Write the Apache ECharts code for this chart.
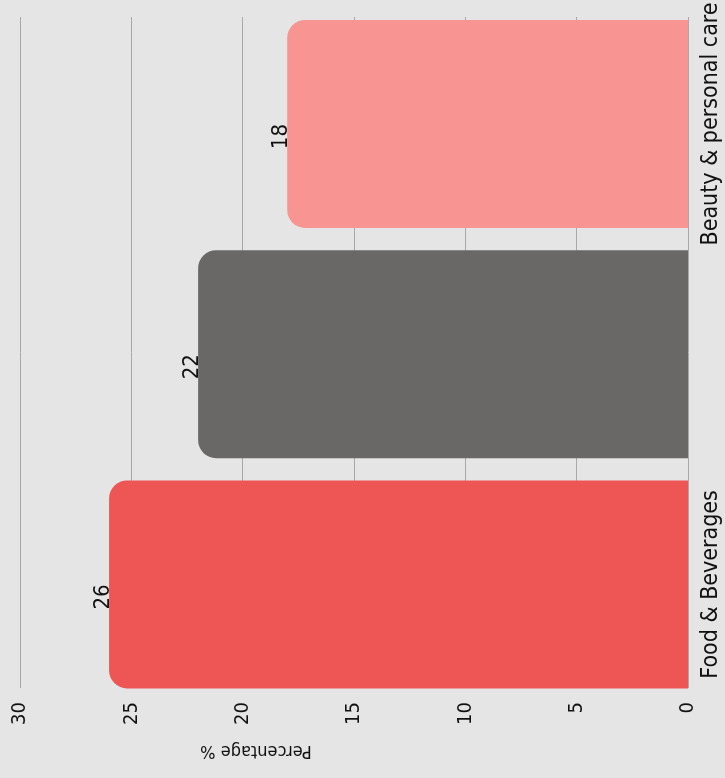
<!DOCTYPE html>
<html>
<head>
<meta charset="utf-8">
<style>
  html, body { margin: 0; padding: 0; background: #e5e5e5; }
  #chart { width: 725px; height: 778px; }
</style>
<script src="https://cdn.jsdelivr.net/npm/echarts@6/dist/echarts.min.js"></script>
</head>
<body>
<div id="chart"></div>
<script>
// Share of respondents per sector, in percent
const categories = ['Food & Beverages', 'Online sales', 'Beauty & personal care'];
const values = [26, 22, 18];
const barColors = ['#ee5555', '#696866', '#f89492'];
const valueTicks = { min: 0, max: 30, interval: 5 };
const axisTitle = 'Percentage %';

const FONT = 'DejaVu Sans Condensed';

const chart = echarts.init(document.getElementById('chart'), null, { renderer: 'canvas' });

chart.setOption({
  backgroundColor: '#e5e5e5',
  animation: false,
  grid: [
    // bars and category labels
    { left: 20, right: 37, top: 5.5, bottom: 78.5 },
    // value scale and gridlines
    { left: 20, right: 37, top: 17, bottom: 90 }
  ],
  xAxis: [
    {
      gridIndex: 0, type: 'value', inverse: true,
      min: valueTicks.min, max: valueTicks.max, interval: valueTicks.interval,
      show: false
    },
    {
      gridIndex: 1, type: 'value', inverse: true, position: 'bottom',
      min: valueTicks.min, max: valueTicks.max, interval: valueTicks.interval,
      axisLine: { show: false },
      axisTick: { show: false },
      splitLine: { show: true, lineStyle: { color: '#a9a9a9', width: 1 } },
      axisLabel: { rotate: 90, margin: 14, fontFamily: FONT, fontSize: 20, color: '#111' }
    }
  ],
  yAxis: [
    {
      gridIndex: 0, type: 'category', data: categories, position: 'right',
      axisLine: { show: false },
      axisTick: { show: false },
      axisLabel: { rotate: 90, margin: 12, fontFamily: FONT, fontSize: 23, color: '#111' }
    },
    {
      gridIndex: 1, type: 'category', data: categories, show: false
    }
  ],
  // value-axis title, turned upside down
  graphic: [
    {
      type: 'text',
      x: 256, y: 751,
      rotation: Math.PI,
      style: {
        text: axisTitle,
        fontFamily: FONT,
        fontSize: 18,
        fill: '#111',
        align: 'center',
        verticalAlign: 'middle'
      }
    }
  ],
  series: [
    {
      type: 'bar',
      xAxisIndex: 0, yAxisIndex: 0,
      barWidth: 208,
      data: values.map((v, i) => ({
        value: v,
        itemStyle: { color: barColors[i], borderRadius: [18, 0, 0, 18] }
      })),
      label: {
        show: true,
        position: 'left',
        distance: 6,
        rotate: 90,
        fontFamily: FONT,
        fontSize: 22,
        color: '#111'
      }
    }
  ]
});
</script>
</body>
</html>
